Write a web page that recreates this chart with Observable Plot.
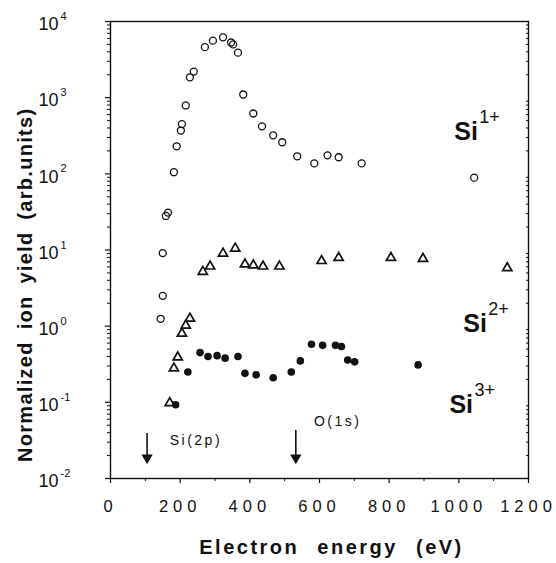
<!DOCTYPE html>
<html><head><meta charset="utf-8">
<script src="https://cdn.jsdelivr.net/npm/d3@7"></script>
<script src="https://cdn.jsdelivr.net/npm/@observablehq/plot@0.6"></script>
<style>body{margin:0;background:#fff} svg{display:block}</style>
</head><body><div id="chart"></div>
<script>
// Si1+ (open circles)
const si1Energy = [144,150,150,159,165,182,190,202,205,216,228,239,271,294,323,346,352,366,381,410,435,467,493,536,585,623,655,721,1044];
const si1Yield  = [1.25,2.5,9.1,28,31,105,230,370,450,790,1850,2200,4600,5600,6200,5300,5000,3900,1100,620,420,320,260,170,137,175,165,137,89];
// Si2+ (open triangles)
const si2Energy = [170,182,193,205,216,228,265,286,323,358,386,410,438,485,606,655,805,897,1139];
const si2Yield  = [0.098,0.28,0.39,0.8,1.02,1.26,5.2,6.1,9.0,10.5,6.5,6.3,6.1,6.1,7.2,7.9,7.9,7.7,5.8];
// Si3+ (filled circles)
const si3Energy = [187,222,257,280,306,329,366,386,418,467,519,545,577,609,646,663,681,701,883];
const si3Yield  = [0.093,0.25,0.45,0.40,0.41,0.38,0.40,0.24,0.23,0.21,0.25,0.35,0.58,0.56,0.56,0.54,0.36,0.34,0.31];

// series labels
const seriesNames = ["Si", "Si", "Si"];
const seriesCharge = ["1+", "2+", "3+"];
const labelEnergy = [987, 1013, 973];
const labelYield = [349, 1.07, 0.092];

// absorption edges
const edgeNames = ["Si(2p)", "O(1s)"];
const edgeEnergy = [105, 532];
const edgeArrowTop = [0.039, 0.0427];
const edgeArrowTip = [0.0176, 0.0176];
const edgeLabelEnergy = [170, 584];
const edgeLabelYield = [0.0316, 0.0561];

// ticks
const xMajorTicks = [0,200,400,600,800,1000,1200];
const xMinorTicks = [100,300,500,700,900,1100];
const yExponents = [4,3,2,1,0,-1,-2];
const yMinorMult = [2,3,4,5,6,7,8,9];
const yMinorTicks = [];
for (const e of yExponents.slice(1)) for (const m of yMinorMult) yMinorTicks.push(m * 10 ** e);

const si1 = si1Energy.map((e,i)=>({e, v: si1Yield[i]}));
const si2 = si2Energy.map((e,i)=>({e, v: si2Yield[i]}));
const si3 = si3Energy.map((e,i)=>({e, v: si3Yield[i]}));
const labels = seriesNames.map((n,i)=>({n, c: seriesCharge[i], e: labelEnergy[i], v: labelYield[i]}));
const edges = edgeNames.map((n,i)=>({n, e: edgeEnergy[i], top: edgeArrowTop[i], tip: edgeArrowTip[i], le: edgeLabelEnergy[i], lv: edgeLabelYield[i]}));

const ink = "#111";
const chart = Plot.plot({
  width: 556, height: 563,
  marginLeft: 110, marginRight: 28, marginTop: 21, marginBottom: 85,
  style: {fontFamily: "'Liberation Sans', Arial, sans-serif", background: "#fff", color: ink},
  x: {domain: [0, 1200]},
  y: {type: "log", domain: [0.01, 10000]},
  marks: [
    Plot.frame({stroke: ink, strokeWidth: 1.4}),
    Plot.axisX(xMajorTicks, {tickSize: 5, tickPadding: 17, fontSize: 16.5, tickFormat: d => String(d), label: null, strokeWidth: 1.2}),
    Plot.axisX(xMinorTicks, {tickSize: 3, tickFormat: () => "", label: null}),
    Plot.axisY(yExponents.map(e => 10 ** e), {tickSize: 5, tickFormat: () => "", label: null, strokeWidth: 1.2}),
    Plot.axisY(yMinorTicks, {tickSize: 3, tickFormat: () => "", label: null}),
    Plot.axisY(yMinorTicks, {anchor: "right", tickSize: -3, tickFormat: () => "", label: null}),
    Plot.text(yExponents, {y: e => 10 ** e, frameAnchor: "left", text: () => "10", textAnchor: "end", dx: -52, dy: 3, fontSize: 18}),
    Plot.text(yExponents, {y: e => 10 ** e, frameAnchor: "left", text: e => e < 0 ? "-" + (-e) : String(e), textAnchor: "start", dx: -50, dy: -5, fontSize: 11}),
    Plot.dot(si1, {x: "e", y: "v", r: 3.5, stroke: ink, strokeWidth: 1.3}),
    Plot.dot(si2, {x: "e", y: "v", symbol: "triangle", r: 3.4, stroke: ink, strokeWidth: 1.7}),
    Plot.dot(si3, {x: "e", y: "v", r: 3.8, fill: ink}),
    Plot.ruleX(edges, {x: "e", y1: "top", y2: "tip", stroke: ink, strokeWidth: 1.6}),
    Plot.dot(edges, {x: "e", y: "tip", symbol: "triangle", rotate: 180, r: 4.2, fill: ink, dy: -2}),
    Plot.text(edges, {x: "le", y: "lv", text: "n", textAnchor: "start", fontSize: 14}),
    Plot.text(labels, {x: "e", y: "v", text: "n", textAnchor: "start", fontSize: 25, fontWeight: "bold"}),
    Plot.text(labels, {x: "e", y: "v", text: "c", textAnchor: "start", dx: 25, dy: -15, fontSize: 18}),
    Plot.text(["Electron energy (eV)"], {frameAnchor: "bottom", textAnchor: "middle", dx: 12, dy: 75, fontSize: 20, fontWeight: "bold"}),
    Plot.text(["Normalized ion yield (arb.units)"], {frameAnchor: "left", textAnchor: "start", rotate: -90, dx: -85, dy: 212, fontSize: 20, fontWeight: "bold"})
  ]
});
document.getElementById("chart").append(chart);
const svg = d3.select(chart);
svg.selectAll('g[aria-label="x-axis tick label"]').attr("letter-spacing", "5");
svg.selectAll('text').filter(function(){ return /^(Si\(2p\)|O\(1s\))$/.test(this.textContent); }).attr("letter-spacing", "2.5");
svg.selectAll('text').filter(function(){ return /Electron/.test(this.textContent); }).attr("letter-spacing", "2.5").attr("word-spacing", "10");
svg.selectAll('text').filter(function(){ return /Normalized/.test(this.textContent); }).attr("letter-spacing", "1.3").attr("word-spacing", "5");
</script>
</body></html>
